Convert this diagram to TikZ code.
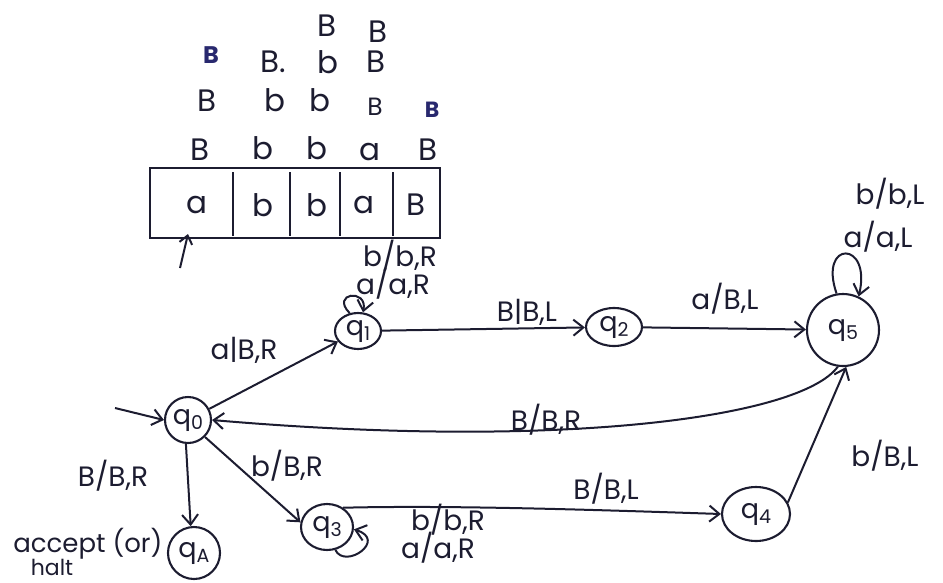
\documentclass[tikz,border=0pt]{standalone}
\usepackage{fontspec}
\setmainfont{Poppins}
\usetikzlibrary{arrows.meta,shapes.geometric}
\definecolor{ink}{RGB}{28,28,48}
\definecolor{blot}{RGB}{40,40,110}
\newcommand\qsub[1]{q\raisebox{-0.35ex}{\fontsize{19}{20}\selectfont #1}}
\begin{document}
\begin{tikzpicture}[x=1pt,y=-1pt,
  every node/.style={font=\fontsize{29}{31}\selectfont,text=ink},
  state/.style={draw=ink,circle,line width=2.1pt,inner sep=0pt,font=\fontsize{27}{29}\selectfont},
  edge/.style={draw=ink,line width=2pt,-{Straight Barb[length=10pt,width=16pt]}},
  tape/.style={font=\fontsize{31}{33}\selectfont},
  lbl/.style={font=\fontsize{28}{30}\selectfont}]
\useasboundingbox (0,0) rectangle (943,582);
% tape
\draw[ink,line width=2.1pt] (150,168) rectangle (440,238);
\foreach \x in {233,290,340,393} \draw[ink,line width=2.1pt] (\x,172) -- (\x,236);
\node[tape] (c1) at (197,205) {a};
\node[tape] (c2) at (263,205) {b};
\node[tape] (c3) at (317,205) {b};
\node[tape] (c4) at (364,205) {a};
\node[tape] (c5) at (416,205) {B};
\coordinate (hd0) at (180,268);
\coordinate (hd1) at (188,234);
\draw[ink,line width=2pt,-{Straight Barb[length=8pt,width=13pt]}] (hd0) -- (hd1);
% rows above tape
\node[tape] (r11) at (200,150) {B};
\node[tape] (r12) at (263,148) {b};
\node[tape] (r13) at (317,148) {b};
\node[tape] (r14) at (370,152) {a};
\node[tape] (r15) at (428,150) {B};
\node[tape] (r21) at (207,101) {B};
\node[tape] (r22) at (275,100) {b};
\node[tape] (r23) at (320,100) {b};
\node[tape,font=\fontsize{25}{27}\selectfont] (r24) at (375,107) {B};
\node[tape,font=\fontsize{22}{24}\selectfont\bfseries,text=blot] (r25) at (432,110) {B};
\node[tape,font=\fontsize{24}{26}\selectfont\bfseries,text=blot] (r31) at (211,55) {B};
\node[tape] (r32) at (273,62) {B.};
\node[tape] (r33) at (328,62) {b};
\node[tape] (r34) at (376,62) {B};
\node[tape] (r41) at (327,26) {B};
\node[tape] (r42) at (378,32) {B};
% states
\node[state,minimum size=46pt] (q0) at (188,420) {\qsub{0}};
\node[state,minimum width=46pt,minimum height=36pt,ellipse] (q1) at (358,331) {\qsub{1}};
\node[state,minimum width=56pt,minimum height=38pt,ellipse] (q2) at (614,327) {\qsub{2}};
\node[state,minimum size=72pt] (q5) at (843,330) {\qsub{5}};
\node[state,minimum width=52pt,minimum height=46pt,ellipse] (q3) at (327,527) {\qsub{3}};
\node[state,minimum width=68pt,minimum height=54pt,ellipse] (q4) at (756,514) {\qsub{4}};
\node[state,minimum size=52pt] (qA) at (194,553) {\qsub{A}};
% start
\coordinate (st) at (115,408);
\draw[edge] (st) -- (q0.180);
% edges
\draw[edge] (q0) -- (q1);
\node[lbl] (l01) at (244,350) {a|B,R};
\draw[edge] (q1) -- (q2);
\node[lbl] (l12) at (527,312) {B|B,L};
\draw[edge] (q2) -- (q5);
\node[lbl] (l25) at (725,299) {a/B,L};
\draw[edge] (q5.262) .. controls (800,418) and (560,450) .. (q0.east);
\node[lbl] (l50) at (546,420) {B/B,R};
\draw[edge] (q0.265) -- (qA.97);
\node[lbl] (l0A) at (113,476) {B/B,R};
\draw[edge] (q0.-45) -- (q3.170);
\node[lbl] (l03) at (287,466) {b/B,R};
\draw[edge] (q3.50) .. controls (450,505) and (600,510) .. (q4.west);
\node[lbl] (l34) at (606,489) {B/B,L};
\draw[edge] (q4.20) -- (q5.275);
\node[lbl] (l45) at (885,456) {b/B,L};
% loops
\draw[edge] (q1.115) .. controls (330,293) and (368,288) .. (q1.75);
\node[lbl] (l11a) at (400,256) {b/b,R};
\node[lbl] (l11b) at (393,284) {a/a,R};
\draw[edge] (q5.100) .. controls (818,240) and (872,240) .. (q5.65);
\node[lbl] (l55a) at (890,194) {b/b,L};
\node[lbl] (l55b) at (878,237) {a/a,L};
\draw[edge] (q3.-70) .. controls (345,570) and (388,540) .. (q3.-5);
\node[lbl] (l33a) at (448,520) {b/b,R};
\node[lbl] (l33b) at (438,548) {a/a,R};
% accept
\node[lbl,font=\fontsize{26}{28}\selectfont,anchor=east] (acc) at (166,544) {accept (or)};
\node[lbl,font=\fontsize{22}{24}\selectfont] (halt) at (52,567) {halt};
\end{tikzpicture}
\end{document}
